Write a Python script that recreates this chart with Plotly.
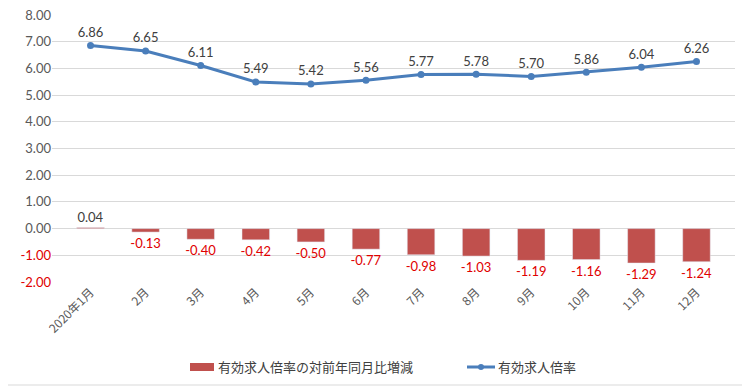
import plotly.graph_objects as go

categories = ["2020年1月", "2月", "3月", "4月", "5月", "6月", "7月", "8月", "9月", "10月", "11月", "12月"]
ratio = [6.86, 6.65, 6.11, 5.49, 5.42, 5.56, 5.77, 5.78, 5.70, 5.86, 6.04, 6.26]
change = [0.04, -0.13, -0.40, -0.42, -0.50, -0.77, -0.98, -1.03, -1.19, -1.16, -1.29, -1.24]
tick_vals = [8, 7, 6, 5, 4, 3, 2, 1, 0, -1, -2]

bar_name = "有効求人倍率の対前年同月比増減"
line_name = "有効求人倍率"

font_family = "Noto Sans CJK JP, Noto Sans, sans-serif"
num_font = "Lato, Liberation Sans, sans-serif"
bar_color = "#C0504D"
line_color = "#4A7EBB"

fig = go.Figure()
fig.add_trace(go.Bar(
    x=categories, y=change, name=bar_name,
    marker=dict(color=bar_color),
    width=0.5,
    text=[f"{v:.2f}" for v in change],
    textposition="outside",
    constraintext="none",
    textfont=dict(family=num_font, color=["#404040" if v >= 0 else "#E00000" for v in change], size=13),
    cliponaxis=False,
))
fig.add_trace(go.Scatter(
    x=categories, y=ratio, name=line_name,
    mode="lines+markers+text",
    line=dict(color=line_color, width=3),
    marker=dict(size=7, color=line_color),
    text=[f"{v:.2f}" for v in ratio],
    textposition="top center",
    textfont=dict(family=num_font, color="#404040", size=13),
    cliponaxis=False,
))

ticktext = [f"<span style='color:#E00000'>{v:.2f}</span>" if v < 0 else f"{v:.2f}" for v in tick_vals]

# page body has an 8px margin; figure placed at (8, 8) in the 750x387 window
OFF = 8
W, H = 750 - OFF, 387 - OFF
ml, mr, mt = 52 - OFF, 15, 15 - OFF
mb = H - (282 - OFF)
pw = W - ml - mr
ph = H - mt - mb

def px(x):
    # x given in window pixels
    return (x - OFF - ml) / pw

def py(y):
    return 1 - (y - OFF - mt) / ph

shapes = [
    dict(type="line", xref="paper", yref="paper",
         x0=px(8), x1=px(748), y0=py(385), y1=py(385),
         line=dict(color="#D9D9D9", width=1)),
    dict(type="line", xref="paper", yref="paper",
         x0=px(748), x1=px(748), y0=py(385), y1=py(8),
         line=dict(color="#D9D9D9", width=1)),
    # custom legend: bar swatch
    dict(type="rect", xref="paper", yref="paper",
         x0=px(190), x1=px(214), y0=py(371), y1=py(363),
         fillcolor=bar_color, line=dict(width=0)),
    # custom legend: line swatch
    dict(type="line", xref="paper", yref="paper",
         x0=px(467), x1=px(495), y0=py(367), y1=py(367),
         line=dict(color=line_color, width=3)),
    dict(type="circle", xref="paper", yref="paper",
         x0=px(478), x1=px(484), y0=py(370), y1=py(364),
         fillcolor=line_color, line=dict(width=0)),
]
annotations = [
    dict(xref="paper", yref="paper", x=px(216), y=py(367), xanchor="left", yanchor="middle",
         text=bar_name, showarrow=False, font=dict(size=13, color="#404040")),
    dict(xref="paper", yref="paper", x=px(496), y=py(367), xanchor="left", yanchor="middle",
         text=line_name, showarrow=False, font=dict(size=13, color="#404040")),
]

fig.update_layout(
    width=W, height=H,
    margin=dict(l=ml, r=mr, t=mt, b=mb),
    paper_bgcolor="white", plot_bgcolor="white",
    font=dict(family=font_family, size=12, color="#595959"),
    showlegend=False,
    xaxis=dict(type="category", tickangle=-45, showgrid=False, showline=False, ticks="",
               tickfont=dict(size=12, color="#595959"), automargin=False,
               ticklabeloverflow="allow"),
    yaxis=dict(range=[-2, 8], tickvals=tick_vals, ticktext=ticktext,
               showgrid=True, gridcolor="#D9D9D9", gridwidth=1,
               zeroline=False, showline=False, ticks="",
               tickfont=dict(family=num_font, size=13, color="#595959"), automargin=False,
               ticklabeloverflow="allow"),
    shapes=shapes,
    annotations=annotations,
)

fig.write_html("out.html")
